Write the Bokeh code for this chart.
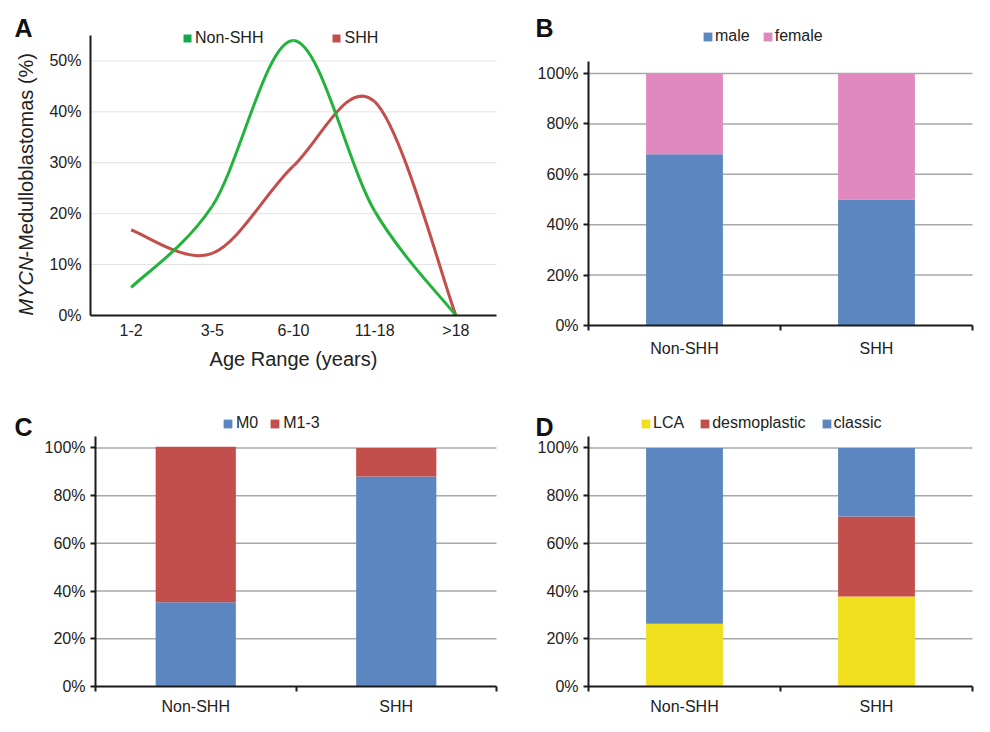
import math
from bokeh.plotting import figure
from bokeh.layouts import column, row
from bokeh.models import (ColumnDataSource, FixedTicker, Legend, LegendItem, Label,
                          PrintfTickFormatter, Range1d)
from bokeh.embed import file_html
from bokeh.resources import INLINE

# ---------------- data ----------------
age_groups = ["1-2", "3-5", "6-10", "11-18", ">18"]
non_shh_pct = [5.5, 21.5, 54.0, 20.5, 0.0]
shh_pct = [16.8, 12.2, 29.4, 42.0, 0.0]

groups = ["Non-SHH", "SHH"]
male = [68.0, 50.0]
female = [32.0, 50.0]

m0 = [35.3, 88.0]
m1_3 = [65.2, 12.0]

lca = [26.3, 37.7]
desmoplastic = [0.0, 33.6]
classic = [73.7, 28.7]

pct_ticks_a = [0, 10, 20, 30, 40, 50]
pct_ticks_bar = [0, 20, 40, 60, 80, 100]

# ---------------- styles ----------------
FONT = "Liberation Sans"
BLUE = "#5b86bf"
PINK = "#e088c0"
RED = "#c24f4b"
YELLOW = "#f0df1e"
GREEN_LINE = "#22b33c"
GREEN_SQ = "#12a94f"
TXT = "#222222"
AXIS = "#1a1a1a"
NAN = float("nan")


def panel(canvas, frame, nx, ymax):
    """canvas / frame given as picture boxes (left, top, right, bottom)."""
    cl, ct, cr, cb = canvas
    fl, ft, fr, fb = frame
    sx = nx / (fr - fl)
    sy = ymax / (fb - ft)
    xr = Range1d(-(fl - cl) * sx, nx + (cr - fr) * sx)
    yr = Range1d(-(cb - fb) * sy, ymax + (ft - ct) * sy)
    p = figure(width=cr - cl, height=cb - ct, x_range=xr, y_range=yr, min_border=0,
               output_backend="svg", toolbar_location=None)
    p.outline_line_color = None
    p.background_fill_color = "white"
    p.border_fill_color = "white"
    p.xgrid.visible = False
    p.ygrid.visible = False
    p.xaxis.fixed_location = 0
    p.xaxis.bounds = (0, nx)
    p.yaxis.fixed_location = 0
    p.yaxis.bounds = (0, ymax)
    for ax in (p.xaxis[0], p.yaxis[0]):
        ax.axis_line_color = AXIS
        ax.axis_line_width = 2
        ax.major_label_text_font = FONT
        ax.major_label_text_font_size = "16px"
        ax.major_label_text_color = TXT
        ax.major_tick_line_color = AXIS
        ax.major_tick_line_width = 2
        ax.minor_tick_line_color = AXIS
        ax.minor_tick_line_width = 2
        ax.major_tick_in = 0
        ax.minor_tick_in = 0
        ax.minor_tick_out = 0

    def to_data(px, py):
        return (px - fl) * sx, (fb - py) * sy

    def to_screen(px, py):
        return px - cl, cb - py

    return p, to_data, to_screen


def add_letter(p, to_data, letter, px, py):
    x, y = to_data(px, py)
    p.add_layout(Label(x=x, y=y, text=letter, text_font=FONT, text_font_size="25px",
                       text_font_style="bold", text_color="#111111", text_align="left",
                       text_baseline="top"))


def add_legend(p, to_screen, items, px, pcy, glyph, standoff, spacing):
    vx, vy = to_screen(px, pcy + 10)
    leg = Legend(items=items, location=(vx, vy), orientation="horizontal",
                 glyph_width=glyph, glyph_height=glyph, label_standoff=standoff, spacing=spacing,
                 padding=0, margin=0, border_line_color=None, background_fill_alpha=0,
                 label_text_font=FONT, label_text_font_size="16px", label_text_color=TXT,
                 label_height=20)
    p.add_layout(leg)


def gridlines(p, ticks, nx, color, width):
    src = ColumnDataSource(dict(y=[t for t in ticks if t != 0]))
    p.segment(x0=0, x1=nx, y0="y", y1="y", source=src, line_color=color, line_width=width)


# ---------------- panel A ----------------
pa, da, sa = panel((0, 0, 500, 370), (90, 35, 496, 315), len(age_groups), 55)
xa = [i + 0.5 for i in range(len(age_groups))]
pa.xaxis.ticker = FixedTicker(ticks=xa, minor_ticks=[])
pa.xaxis.major_label_overrides = {x: g for x, g in zip(xa, age_groups)}
pa.xaxis.major_tick_out = 0
pa.xaxis.major_label_standoff = 6
pa.yaxis.ticker = FixedTicker(ticks=pct_ticks_a, minor_ticks=[])
pa.yaxis.formatter = PrintfTickFormatter(format="%d%%")
pa.yaxis.major_tick_out = 0
pa.yaxis.major_label_standoff = 9
gridlines(pa, pct_ticks_a, len(age_groups), "#e2e2e2", 1)


def smooth_segments(xs, ys):
    n = len(xs)
    seg = dict(x0=[], y0=[], x1=[], y1=[], cx0=[], cy0=[], cx1=[], cy1=[])
    for i in range(n - 1):
        im1 = max(i - 1, 0)
        ip2 = min(i + 2, n - 1)
        seg["x0"].append(xs[i]); seg["y0"].append(ys[i])
        seg["x1"].append(xs[i + 1]); seg["y1"].append(ys[i + 1])
        seg["cx0"].append(xs[i] + (xs[i + 1] - xs[im1]) / 6)
        seg["cy0"].append(ys[i] + (ys[i + 1] - ys[im1]) / 6)
        seg["cx1"].append(xs[i + 1] - (xs[ip2] - xs[i]) / 6)
        seg["cy1"].append(ys[i + 1] - (ys[ip2] - ys[i]) / 6)
    return ColumnDataSource(seg)


pa.bezier(x0="x0", y0="y0", x1="x1", y1="y1", cx0="cx0", cy0="cy0", cx1="cx1", cy1="cy1",
          source=smooth_segments(xa, shh_pct), line_color=RED, line_width=3)
pa.bezier(x0="x0", y0="y0", x1="x1", y1="y1", cx0="cx0", cy0="cy0", cx1="cx1", cy1="cy1",
          source=smooth_segments(xa, non_shh_pct), line_color=GREEN_LINE, line_width=3)
# legend swatches only (no visible data mark)
swatch = dict(left=[NAN], right=[NAN], top=[NAN], bottom=[NAN])
lg_non = pa.quad(source=ColumnDataSource(swatch), left="left", right="right", top="top",
                 bottom="bottom", fill_color=GREEN_SQ, line_color=None)
lg_shh = pa.quad(source=ColumnDataSource(dict(swatch)), left="left", right="right", top="top",
                 bottom="bottom", fill_color=RED, line_color=None)
add_legend(pa, sa, [LegendItem(label="Non-SHH", renderers=[lg_non]),
                    LegendItem(label="SHH", renderers=[lg_shh])], 182, 38, 10, 3, 68)
add_letter(pa, da, "A", 14, 13)
tx, ty = da(293, 347)
pa.add_layout(Label(x=tx, y=ty, text="Age Range (years)", text_font=FONT,
                    text_font_size="20px", text_color=TXT, text_align="center",
                    text_baseline="top"))
mx, my = da(25, 315)
pa.add_layout(Label(x=mx, y=my, text="MYCN", angle=math.pi / 2, text_font=FONT,
                    text_font_size="20px", text_font_style="italic", text_color=TXT,
                    text_align="left", text_baseline="middle"))
mx2, my2 = da(25, 315 - 58)
pa.add_layout(Label(x=mx2, y=my2, text="-Medulloblastomas (%)", angle=math.pi / 2,
                    text_font=FONT, text_font_size="20px", text_color=TXT, text_align="left",
                    text_baseline="middle"))


# ---------------- bar panels ----------------
def bar_panel(canvas, frame, series, colors, names, letter, letter_xy, leg_xy, standoff,
              spacing, label_standoff):
    ymax = 104.8
    p, to_data, to_screen = panel(canvas, frame, len(groups), ymax)
    xs = [i + 0.5 for i in range(len(groups))]
    p.xaxis.ticker = FixedTicker(ticks=xs, minor_ticks=list(range(len(groups) + 1)))
    p.xaxis.major_label_overrides = {x: g for x, g in zip(xs, groups)}
    p.xaxis.major_tick_out = 0
    p.xaxis.minor_tick_out = 5
    p.xaxis.major_label_standoff = label_standoff
    p.yaxis.ticker = FixedTicker(ticks=pct_ticks_bar, minor_ticks=[])
    p.yaxis.formatter = PrintfTickFormatter(format="%d%%")
    p.yaxis.major_tick_out = 5
    p.yaxis.major_label_standoff = 5
    gridlines(p, pct_ticks_bar, len(groups), "#a8a8a8", 1.5)
    data = {"x": xs}
    keys = []
    for i, s in enumerate(series):
        k = f"s{i}"
        data[k] = s
        keys.append(k)
    rs = p.vbar_stack(keys, x="x", width=0.4, color=colors, line_color=None,
                      source=ColumnDataSource(data))
    add_legend(p, to_screen, [LegendItem(label=n, renderers=[r]) for n, r in zip(names, rs)],
               leg_xy[0], leg_xy[1], 11, standoff, spacing)
    add_letter(p, to_data, letter, letter_xy[0], letter_xy[1])
    return p


pb = bar_panel((500, 0, 974, 370), (588, 61, 972, 325), [male, female], [BLUE, PINK],
               ["male", "female"], "B", (535, 13), (702, 36), 2, 12, 9)
pc = bar_panel((0, 370, 500, 716), (95, 436, 496, 686), [m0, m1_3], [BLUE, RED],
               ["M0", "M1-3"], "C", (14, 412), (222, 423), 3, 11, 6)
pd = bar_panel((500, 370, 974, 716), (588, 436, 972, 686), [lca, desmoplastic, classic],
               [YELLOW, RED, BLUE], ["LCA", "desmoplastic", "classic"], "D", (535, 412),
               (640, 423), 2, 15, 6)

layout = column(row(pa, pb), row(pc, pd))
open("out.html", "w").write(file_html(layout, INLINE))
